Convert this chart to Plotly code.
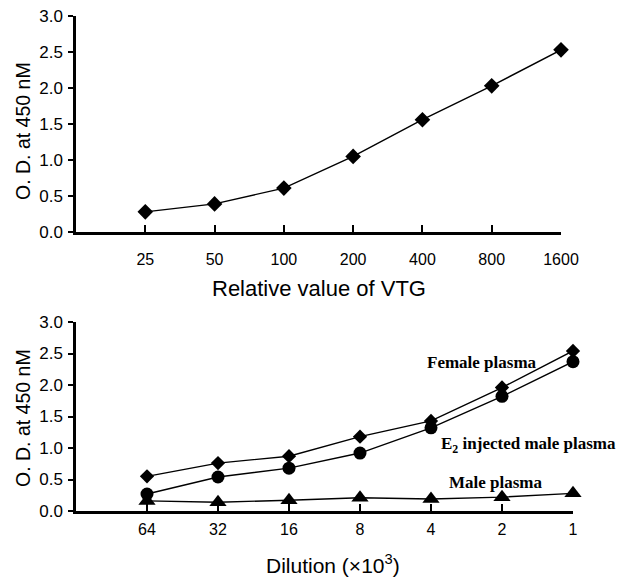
import plotly.graph_objects as go

# ---- data ----
vtg_labels = ["25", "50", "100", "200", "400", "800", "1600"]
vtg_od = [0.28, 0.39, 0.61, 1.05, 1.56, 2.03, 2.53]

dil_labels = ["64", "32", "16", "8", "4", "2", "1"]
female_od = [0.55, 0.76, 0.87, 1.18, 1.43, 1.96, 2.54]
e2_male_od = [0.27, 0.54, 0.68, 0.92, 1.32, 1.82, 2.37]
male_od = [0.16, 0.14, 0.17, 0.21, 0.19, 0.22, 0.28]

OFF = 8  # page body margin
W, H = 624 - OFF, 578 - OFF
SANS = "Liberation Sans, Arial, sans-serif"
SERIF = "Liberation Serif, Times New Roman, serif"

def px_x(p):
    return (p - OFF) / W

def px_y(p):
    return 1 - (p - OFF) / H

fig = go.Figure()

line = dict(color="black", width=1.4)
fig.add_trace(go.Scatter(x=vtg_labels, y=vtg_od, mode="lines+markers", cliponaxis=False,
                         line=line, marker=dict(symbol="diamond", size=12, color="black"),
                         xaxis="x", yaxis="y", showlegend=False))
fig.add_trace(go.Scatter(x=dil_labels, y=female_od, mode="lines+markers", cliponaxis=False,
                         line=line, marker=dict(symbol="diamond", size=11, color="black"),
                         xaxis="x2", yaxis="y2", showlegend=False))
fig.add_trace(go.Scatter(x=dil_labels, y=e2_male_od, mode="lines+markers", cliponaxis=False,
                         line=line, marker=dict(symbol="circle", size=13, color="black"),
                         xaxis="x2", yaxis="y2", showlegend=False))
fig.add_trace(go.Scatter(x=dil_labels, y=male_od, mode="lines+markers", cliponaxis=False,
                         line=line, marker=dict(symbol="triangle-up", size=15, color="black"),
                         xaxis="x2", yaxis="y2", showlegend=False))

tickfont = dict(family=SANS, size=16, color="black")

xcommon = dict(type="category", range=[-1, 6], showline=True, linewidth=2.5,
               linecolor="black", ticks="inside", ticklen=7, tickwidth=1.5,
               tickcolor="black", showgrid=False, zeroline=False, tickfont=tickfont,
               automargin=False, ticklabeloverflow="allow")
ycommon = dict(range=[0, 3], tickvals=[0, 0.5, 1, 1.5, 2, 2.5, 3], tickformat=".1f",
               showline=True, linewidth=2.5, linecolor="black", ticks="outside",
               ticklen=5, tickwidth=2, tickcolor="black", showgrid=False,
               zeroline=False, tickfont=dict(family=SANS, size=17, color="black"),
               ticklabelstandoff=2, automargin=False, ticklabeloverflow="allow")

fig.update_layout(
    width=W, height=H,
    margin=dict(l=0, r=0, t=0, b=0, autoexpand=False),
    paper_bgcolor="white", plot_bgcolor="white",
    xaxis=dict(xcommon, domain=[px_x(76), px_x(561)], anchor="y",
               categoryorder="array", categoryarray=vtg_labels, ticklabelstandoff=11),
    yaxis=dict(ycommon, domain=[px_y(232), px_y(16)], anchor="x"),
    xaxis2=dict(xcommon, domain=[px_x(76), px_x(573)], anchor="y2",
                categoryorder="array", categoryarray=dil_labels, ticklabelstandoff=2),
    yaxis2=dict(ycommon, domain=[px_y(511), px_y(322)], anchor="x2"),
)

ann = []
ann.append(dict(text="Relative value of VTG", x=px_x(319), y=px_y(288), xref="paper", yref="paper",
                showarrow=False, xanchor="center", yanchor="middle",
                font=dict(family=SANS, size=22, color="black")))
ann.append(dict(text="Dilution (×10<sup>3</sup>)", x=px_x(333), y=px_y(564), xref="paper", yref="paper",
                showarrow=False, xanchor="center", yanchor="middle",
                font=dict(family=SANS, size=21, color="black")))
for yc in (131, 418):
    ann.append(dict(text="O. D. at 450 nM", x=px_x(23), y=px_y(yc), xref="paper", yref="paper",
                    showarrow=False, xanchor="center", yanchor="middle", textangle=-90,
                    font=dict(family=SANS, size=19.5, color="black")))

labfont = dict(family=SERIF, size=17, color="black")
ann.append(dict(text="<b>Female plasma</b>", x=4.72, y=2.35, xref="x2", yref="y2",
                showarrow=False, xanchor="center", yanchor="middle", font=labfont))
ann.append(dict(text="<b>E<sub>2</sub> injected male plasma</b>", x=5.38, y=1.04, xref="x2", yref="y2",
                showarrow=False, xanchor="center", yanchor="middle", font=labfont))
ann.append(dict(text="<b>Male plasma</b>", x=4.91, y=0.45, xref="x2", yref="y2",
                showarrow=False, xanchor="center", yanchor="middle", font=labfont))
fig.update_layout(annotations=ann)

fig.write_html("out.html")
